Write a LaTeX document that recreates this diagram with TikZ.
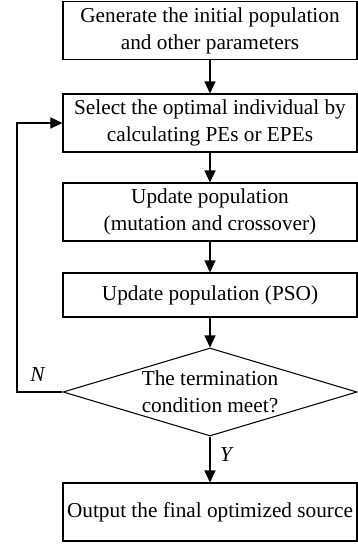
\documentclass[tikz,border=0pt]{standalone}
\usepackage{fontspec}
\setmainfont{Liberation Serif}
\usetikzlibrary{arrows.meta,shapes.geometric}

\begin{document}
\begin{tikzpicture}[
    font=\fontsize{12.1}{15.4}\selectfont,
    stepbox/.style={draw,line width=0.6pt,rectangle,minimum width=5.88cm,minimum height=1.16cm,align=center,inner sep=1pt},
    decide/.style={draw,line width=0.6pt,diamond,aspect=3.34,minimum width=5.88cm,minimum height=1.76cm,align=center,inner sep=0pt},
    arrow/.style={-{Triangle[length=0.24cm,width=0.22cm]},line width=0.6pt}
  ]
    \useasboundingbox (0,0) rectangle (7.16,-10.88);
    \node[stepbox] (gen) at (4.2,-0.61) {Generate the initial population\\and other parameters};
    \node[stepbox] (sel) at (4.2,-2.46) {Select the optimal individual by\\calculating PEs or EPEs};
    \node[stepbox] (upd) at (4.2,-4.24) {Update population\\(mutation and crossover)};
    \node[stepbox,minimum height=0.88cm] (pso) at (4.2,-5.9) {Update population (PSO)};
    \node[decide] (term) at (4.2,-7.84) {The termination\\condition meet?};
    \node[stepbox] (out) at (4.2,-10.24) {Output the final optimized source};
    \foreach \a/\b in {gen/sel,sel/upd,upd/pso,pso/term,term/out}
      \draw[arrow] (\a) -- (\b);
    % loop back when not finished
    \coordinate (back) at (0.34,-7.84);
    \draw[arrow] (term.west) -- (back) |- (sel.west);
    \node (no) at (0.76,-7.5) {\textit{N}};
    \node (yes) at (4.54,-9.1) {\textit{Y}};
  \end{tikzpicture}
\end{document}
